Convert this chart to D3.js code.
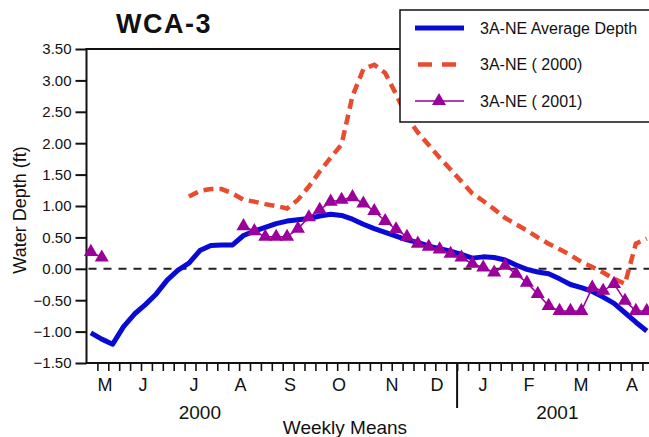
<!DOCTYPE html>
<html>
<head>
<meta charset="utf-8">
<script src="https://cdn.jsdelivr.net/npm/d3@7"></script>
<style>
  html, body { margin: 0; padding: 0; background: #fff; }
  svg { display: block; }
  text { font-family: "Liberation Sans", Arial, sans-serif; fill: #111; }
</style>
</head>
<body>
<svg id="chart" width="649" height="437"></svg>
<script>
// ---- data (weekly means, index = week since start of May 2000) ----
const avgDepth = [-1.02, -1.12, -1.20, -0.92, -0.72, -0.57, -0.40, -0.18, -0.02, 0.09,
  0.29, 0.37, 0.38, 0.38, 0.53, 0.60, 0.66, 0.72, 0.76, 0.78,
  0.80, 0.84, 0.87, 0.85, 0.79, 0.71, 0.64, 0.58, 0.52, 0.46,
  0.42, 0.36, 0.32, 0.28, 0.23, 0.17, 0.19, 0.18, 0.14, 0.06,
  -0.01, -0.05, -0.08, -0.16, -0.25, -0.30, -0.36, -0.45, -0.55, -0.70,
  -0.85, -0.99];
const depth2000 = [null, null, null, null, null, null, null, null, null, 1.15,
  1.24, 1.27, 1.27, 1.20, 1.10, 1.07, 1.03, 1.00, 0.96, 1.10,
  1.31, 1.55, 1.77, 1.98, 2.75, 3.18, 3.25, 3.12, 2.78, 2.42,
  2.17, 1.97, 1.77, 1.58, 1.39, 1.20, 1.08, 0.95, 0.81, 0.71,
  0.61, 0.50, 0.40, 0.31, 0.22, 0.11, 0.03, -0.06, -0.16, -0.24,
  0.40, 0.48];
const depth2001 = [0.27, 0.18, null, null, null, null, null, null, null, null,
  null, null, null, null, 0.68, 0.60, 0.51, 0.51, 0.51, 0.64,
  0.82, 0.94, 1.07, 1.10, 1.14, 1.04, 0.92, 0.76, 0.63, 0.51,
  0.40, 0.35, 0.31, 0.24, 0.18, 0.08, 0.02, -0.06, 0.05, -0.08,
  -0.22, -0.40, -0.59, -0.67, -0.67, -0.67, -0.30, -0.35, -0.24, -0.51,
  -0.67, -0.67];
const yTicks = [-1.5, -1.0, -0.5, 0.0, 0.5, 1.0, 1.5, 2.0, 2.5, 3.0, 3.5];
const monthLabels = ["M", "J", "J", "A", "S", "O", "N", "D", "J", "F", "M", "A"];
const monthPos = [1.70, 5.18, 9.86, 14.12, 18.67, 23.17, 28.03, 32.16, 36.38, 40.6, 45.37, 50.05];
const yearLabels = ["2000", "2001"];
const yearPos = [10.4, 43.2];
const yearBreak = 34;
const seriesNames = ["3A-NE Average Depth", "3A-NE ( 2000)", "3A-NE ( 2001)"];

// ---- layout ----
const svg = d3.select("#chart");
const x = d3.scaleLinear().domain([0, 52]).range([86.5, 86.5 + 52 * 10.9]);
const y = d3.scaleLinear().domain([-1.5, 3.5]).range([363, 49]);
const px = i => x(i + 0.4);

const cBlue = "#0a0ad6", cRed = "#ea4a2e", cPurple = "#9b009b";

// title
svg.append("text").attr("x", 164).attr("y", 33).attr("text-anchor", "middle")
  .style("font-size", "27px").style("font-weight", "bold").style("letter-spacing", "1.5px")
  .text("WCA-3");

// top frame line
svg.append("line").attr("x1", x(0)).attr("x2", 649).attr("y1", y(3.5)).attr("y2", y(3.5))
  .attr("stroke", "#111").attr("stroke-width", 2);

// zero dashed line
svg.append("line").attr("x1", x(0) + 2).attr("x2", 649).attr("y1", y(0)).attr("y2", y(0))
  .attr("stroke", "#222").attr("stroke-width", 2).attr("stroke-dasharray", "8,7");

// y axis
const yAxis = svg.append("g").attr("transform", `translate(${x(0)},0)`)
  .call(d3.axisLeft(y).tickValues(yTicks).tickSize(11).tickPadding(4).tickFormat(d3.format(".2f")));
yAxis.select(".domain").remove();
yAxis.selectAll(".tick line").attr("stroke", "#111").attr("stroke-width", 2);
yAxis.selectAll(".tick text").style("font-size", "15px").attr("fill", "#111")
  .style("font-family", "'Liberation Sans', Arial, sans-serif");
svg.append("line").attr("x1", x(0)).attr("x2", x(0)).attr("y1", y(3.5) - 1).attr("y2", y(-1.5) + 1)
  .attr("stroke", "#111").attr("stroke-width", 2);

// x axis
const xAxis = svg.append("g").attr("transform", `translate(0,${y(-1.5)})`)
  .call(d3.axisBottom(x).tickValues(d3.range(1, 53)).tickSize(8).tickFormat(""));
xAxis.select(".domain").remove();
xAxis.selectAll(".tick line").attr("stroke", "#111").attr("stroke-width", 1.6);
svg.append("line").attr("x1", x(0)).attr("x2", 649).attr("y1", y(-1.5)).attr("y2", y(-1.5))
  .attr("stroke", "#111").attr("stroke-width", 2);
svg.append("line").attr("x1", x(yearBreak)).attr("x2", x(yearBreak))
  .attr("y1", y(-1.5)).attr("y2", y(-1.5) + 45).attr("stroke", "#111").attr("stroke-width", 2);

svg.append("g").selectAll("text").data(monthLabels).join("text")
  .attr("x", (d, i) => x(monthPos[i])).attr("y", 391).attr("text-anchor", "middle")
  .style("font-size", "18px").text(d => d);
svg.append("g").selectAll("text").data(yearLabels).join("text")
  .attr("x", (d, i) => x(yearPos[i])).attr("y", 419).attr("text-anchor", "middle")
  .style("font-size", "19px").text(d => d);
svg.append("text").attr("x", 345).attr("y", 434).attr("text-anchor", "middle")
  .style("font-size", "19px").text("Weekly Means");
svg.append("text").attr("transform", "translate(26,210) rotate(-90)").attr("text-anchor", "middle")
  .style("font-size", "18px").text("Water Depth (ft)");

// series
const line = d3.line().defined(d => d != null).x((d, i) => px(i)).y(d => y(d));
const plot = svg.append("g");
plot.append("path").datum(depth2000).attr("d", line).attr("fill", "none")
  .attr("stroke", cRed).attr("stroke-width", 4.5).attr("stroke-dasharray", "10,6");
plot.append("path").datum(avgDepth).attr("d", line).attr("fill", "none")
  .attr("stroke", cBlue).attr("stroke-width", 5).attr("stroke-linejoin", "round");
plot.append("path").datum(depth2001).attr("d", line).attr("fill", "none")
  .attr("stroke", cPurple).attr("stroke-width", 1.5);
const tri = d3.symbol().type(d3.symbolTriangle).size(85);
plot.append("g").selectAll("path")
  .data(depth2001.map((v, i) => ({ v, i })).filter(d => d.v != null))
  .join("path").attr("d", tri).attr("fill", cPurple)
  .attr("transform", d => `translate(${px(d.i)},${y(d.v)})`);

// legend
const lg = svg.append("g");
lg.append("rect").attr("x", 400).attr("y", 10).attr("width", 270).attr("height", 112)
  .attr("fill", "#fff").attr("stroke", "#111").attr("stroke-width", 1.5);
const ly = [28, 64.5, 101];
lg.append("line").attr("x1", 415).attr("x2", 464).attr("y1", ly[0]).attr("y2", ly[0])
  .attr("stroke", cBlue).attr("stroke-width", 5);
lg.append("line").attr("x1", 418).attr("x2", 456).attr("y1", ly[1]).attr("y2", ly[1])
  .attr("stroke", cRed).attr("stroke-width", 4.5).attr("stroke-dasharray", "14,10");
lg.append("line").attr("x1", 415).attr("x2", 464).attr("y1", ly[2]).attr("y2", ly[2])
  .attr("stroke", cPurple).attr("stroke-width", 1.5);
lg.append("path").attr("d", tri).attr("fill", cPurple).attr("transform", `translate(439,${ly[2]})`);
lg.selectAll("text.lab").data(seriesNames).join("text").attr("class", "lab")
  .attr("x", 480).attr("y", (d, i) => ly[i] + 5.5).style("font-size", "16px").text(d => d);
</script>
</body>
</html>
